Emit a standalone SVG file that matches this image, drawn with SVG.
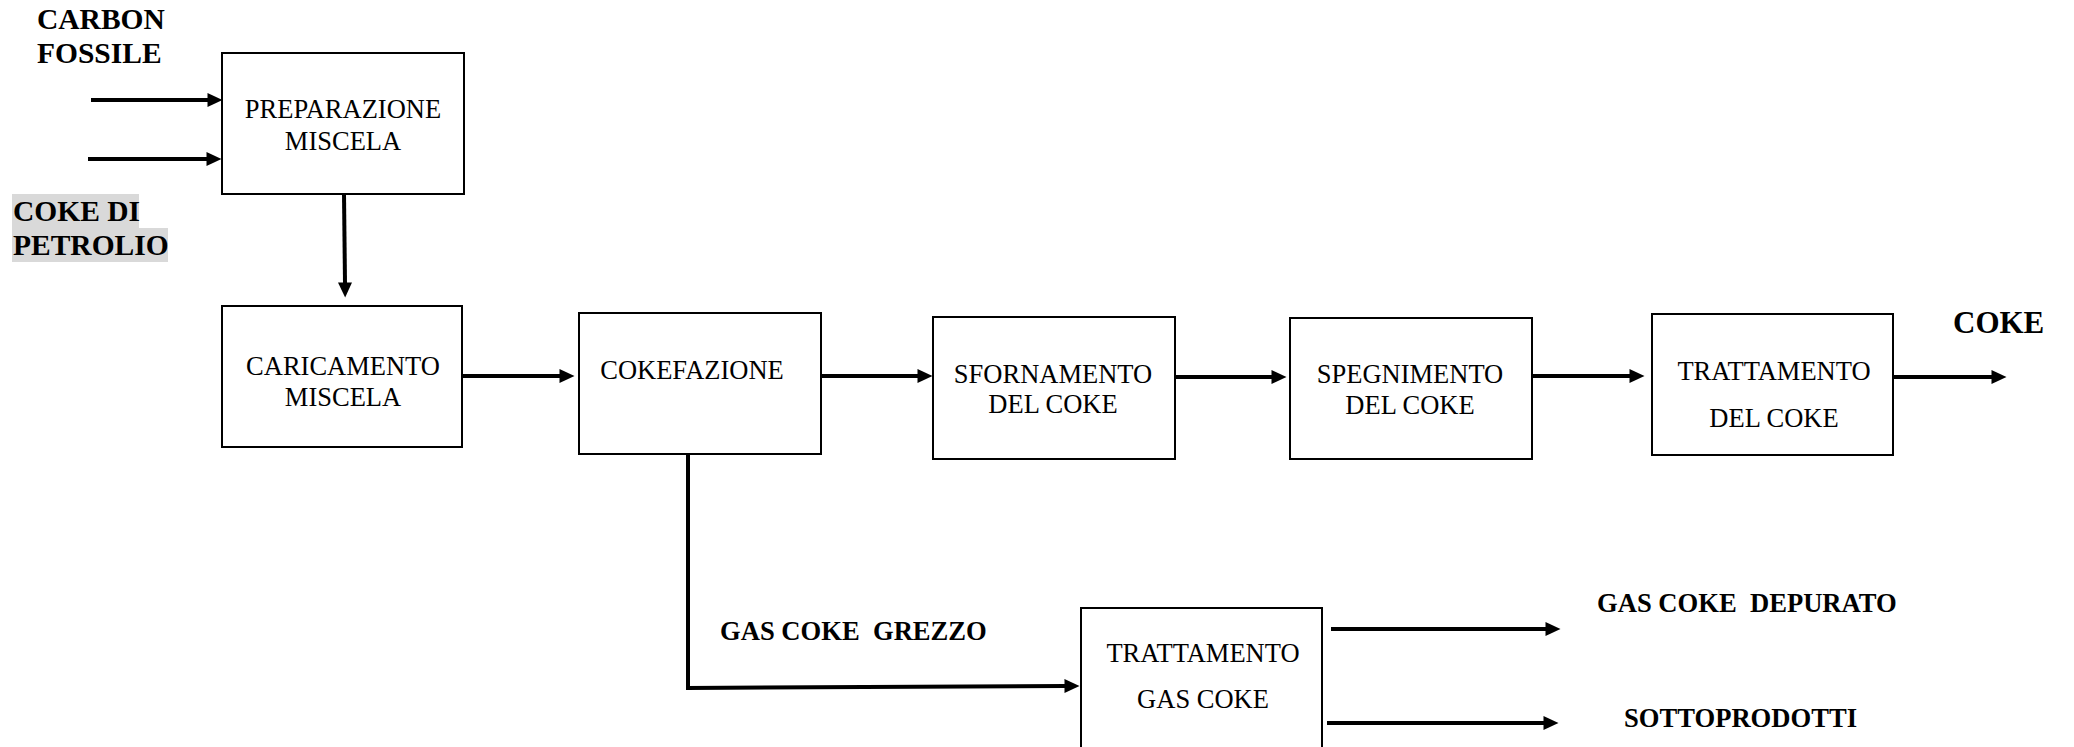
<svg xmlns="http://www.w3.org/2000/svg" width="2074" height="747" viewBox="0 0 2074 747">
<defs>
<marker id="ah" markerUnits="userSpaceOnUse" markerWidth="16" markerHeight="14" refX="0.5" refY="7" orient="auto" overflow="visible">
<path d="M0,0 L15,7 L0,14 Z" fill="#000"/>
</marker>
</defs>
<style>
.box{fill:#fff;stroke:#000;stroke-width:2}
.t{font-family:"Liberation Serif","Times New Roman",serif;font-size:26.5px;fill:#000;text-anchor:middle}
.lb{font-family:"Liberation Serif","Times New Roman",serif;font-weight:bold;fill:#000}
.c{fill:none;stroke:#000;stroke-width:4}
.a{fill:none;stroke:#000;stroke-width:4;marker-end:url(#ah)}
.hl{fill:#d9d9d9}
</style>
<rect width="2074" height="747" fill="#fff"/>

<g id="labels">
<text class="lb" x="37" y="29" font-size="29.5">CARBON</text>
<text class="lb" x="37" y="63" font-size="29.5">FOSSILE</text>
<rect class="hl" x="12" y="194" width="127" height="34"/>
<rect class="hl" x="12" y="228" width="156" height="34"/>
<text class="lb" x="13" y="221" font-size="29.5">COKE DI</text>
<text class="lb" x="13" y="255" font-size="29.5">PETROLIO</text>
<text class="lb" x="1953" y="333" font-size="31">COKE</text>
<text class="lb" x="720" y="640" font-size="26.6" xml:space="preserve">GAS COKE  GREZZO</text>
<text class="lb" x="1597" y="612" font-size="26.6" xml:space="preserve">GAS COKE  DEPURATO</text>
<text class="lb" x="1624" y="727" font-size="26.6">SOTTOPRODOTTI</text>
</g>

<g id="connectors">
<line class="a" x1="91" y1="100" x2="208" y2="100"/>
<line class="a" x1="88" y1="159" x2="207" y2="159"/>
<line class="a" x1="344" y1="194" x2="345" y2="283"/>
<line class="a" x1="462" y1="376" x2="560" y2="376"/>
<line class="a" x1="821" y1="376" x2="918" y2="376"/>
<line class="a" x1="1176" y1="377" x2="1272" y2="377"/>
<line class="a" x1="1532" y1="376" x2="1630" y2="376"/>
<line class="a" x1="1893" y1="377" x2="1992" y2="377"/>
<line class="c" x1="688" y1="454" x2="688" y2="690" stroke-width="3"/>
<line class="a" x1="687" y1="688" x2="1065" y2="686"/>
<line class="a" x1="1331" y1="629" x2="1546" y2="629"/>
<line class="a" x1="1327" y1="723" x2="1544" y2="723"/>
</g>

<g id="preparazione">
<rect class="box" x="222" y="53" width="242" height="141"/>
<text class="t" x="343" y="118">PREPARAZIONE</text>
<text class="t" x="343" y="150">MISCELA</text>
</g>
<g id="caricamento">
<rect class="box" x="222" y="306" width="240" height="141"/>
<text class="t" x="343" y="375">CARICAMENTO</text>
<text class="t" x="343" y="406">MISCELA</text>
</g>
<g id="cokefazione">
<rect class="box" x="579" y="313" width="242" height="141"/>
<text class="t" x="692" y="379">COKEFAZIONE</text>
</g>
<g id="sfornamento">
<rect class="box" x="933" y="317" width="242" height="142"/>
<text class="t" x="1053" y="383">SFORNAMENTO</text>
<text class="t" x="1053" y="413">DEL COKE</text>
</g>
<g id="spegnimento">
<rect class="box" x="1290" y="318" width="242" height="141"/>
<text class="t" x="1410" y="383">SPEGNIMENTO</text>
<text class="t" x="1410" y="414">DEL COKE</text>
</g>
<g id="trattamento-coke">
<rect class="box" x="1652" y="314" width="241" height="141"/>
<text class="t" x="1774" y="380">TRATTAMENTO</text>
<text class="t" x="1774" y="427">DEL COKE</text>
</g>
<g id="trattamento-gas">
<rect class="box" x="1081" y="608" width="241" height="160"/>
<text class="t" x="1203" y="662">TRATTAMENTO</text>
<text class="t" x="1203" y="708">GAS COKE</text>
</g>
</svg>
